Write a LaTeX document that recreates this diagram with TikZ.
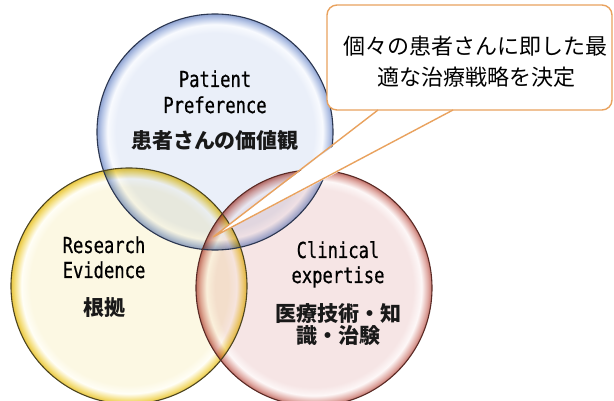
\documentclass[tikz,border=0pt]{standalone}
\usepackage{fontspec}
\newfontfamily\jp{Noto Sans CJK JP}
\newfontfamily\mono[FakeStretch=0.78,FakeBold=0.6]{DejaVu Sans Mono}
\definecolor{bIn}{HTML}{EAEFF9}
\definecolor{bHi}{HTML}{F8FAFE}
\definecolor{bRing}{HTML}{B6C5E6}
\definecolor{bEdge}{HTML}{8EA2D0}
\definecolor{bLine}{HTML}{2B3650}
\definecolor{yIn}{HTML}{FCF8E3}
\definecolor{yHi}{HTML}{FFFEF6}
\definecolor{yRing}{HTML}{F4DE7C}
\definecolor{yEdge}{HTML}{E8C640}
\definecolor{yLine}{HTML}{4D4520}
\definecolor{rIn}{HTML}{F6E5E5}
\definecolor{rHi}{HTML}{FDF7F7}
\definecolor{rRing}{HTML}{E0AAA4}
\definecolor{rEdge}{HTML}{C2726A}
\definecolor{rLine}{HTML}{5A2A25}
\definecolor{coLine}{HTML}{E9A25E}
\pgfdeclareradialshading{ringblue}{\pgfpoint{0bp}{0bp}}{color(0bp)=(bIn); color(21bp)=(bIn); color(22.8bp)=(bHi); color(24.2bp)=(bRing); color(25bp)=(bEdge); color(50bp)=(bEdge)}
\pgfdeclareradialshading{ringyellow}{\pgfpoint{0bp}{0bp}}{color(0bp)=(yIn); color(21bp)=(yIn); color(22.8bp)=(yHi); color(24.2bp)=(yRing); color(25bp)=(yEdge); color(50bp)=(yEdge)}
\pgfdeclareradialshading{ringred}{\pgfpoint{0bp}{0bp}}{color(0bp)=(rIn); color(21bp)=(rIn); color(22.8bp)=(rHi); color(24.2bp)=(rRing); color(25bp)=(rEdge); color(50bp)=(rEdge)}
\tikzset{
  venn/.style={circle, minimum size=236pt, inner sep=0pt, blend mode=multiply},
  rim/.style={circle, minimum size=236pt, inner sep=0pt, draw=#1, line width=1.1pt},
  engl/.style={font=\mono\fontsize{22}{26}\selectfont, text=black, anchor=base, inner sep=0pt},
  jpl/.style={font=\jp\bfseries\fontsize{21}{24}\selectfont, text=black!90, anchor=base, inner sep=0pt},
  cotext/.style={font=\jp\fontsize{22}{26}\selectfont, text=black, anchor=base, inner sep=0pt},
  callbox/.style={rectangle, rounded corners=10pt, draw=coLine, fill=white, line width=1.4pt, inner sep=0pt},
}
\begin{document}
\begin{tikzpicture}[x=1pt,y=-1pt]
\useasboundingbox (0,0) rectangle (614,401);
\fill[white] (0,0) rectangle (614,401);
% circles
\node[venn, shading=ringblue, shade] (blue) at (215,132) {};
\node[venn, shading=ringyellow, shade] (yellow) at (129,286) {};
\node[venn, shading=ringred, shade] (red) at (314,288) {};
\node[rim=bLine] (blueRim) at (blue.center) {};
\node[rim=yLine] (yellowRim) at (yellow.center) {};
\node[rim=rLine] (redRim) at (red.center) {};
% callout
\node[callbox, minimum width=285pt, minimum height=105pt] (box) at (469.5,57.5) {};
\coordinate (tip) at (213,237);
\coordinate (baseL) at (378,110);
\coordinate (baseR) at (453,110);
\fill[white] ([yshift=-2.5pt]baseL) -- (tip) -- ([yshift=-2.5pt]baseR) -- cycle;
\draw[coLine, line width=1.4pt, line join=miter] (baseL) -- (tip) -- (baseR);
\node[cotext] (co1) at (475.5,55) {個々の患者さんに即した最};
\node[cotext] (co2) at (476,86) {適な治療戦略を決定};
% labels
\node[engl] (p1) at (215,87) {Patient};
\node[engl] (p2) at (215,113) {Preference};
\node[jpl] (p3) at (215,149) {患者さんの価値観};
\node[engl] (r1) at (104,253) {Research};
\node[engl] (r2) at (104,278) {Evidence};
\node[jpl] (r3) at (104,316) {根拠};
\node[engl] (c1) at (338,258) {Clinical};
\node[engl] (c2) at (338,283) {expertise};
\node[jpl] (c3) at (338,321) {医療技術・知};
\node[jpl] (c4) at (338,344) {識・治験};
\end{tikzpicture}
\end{document}
